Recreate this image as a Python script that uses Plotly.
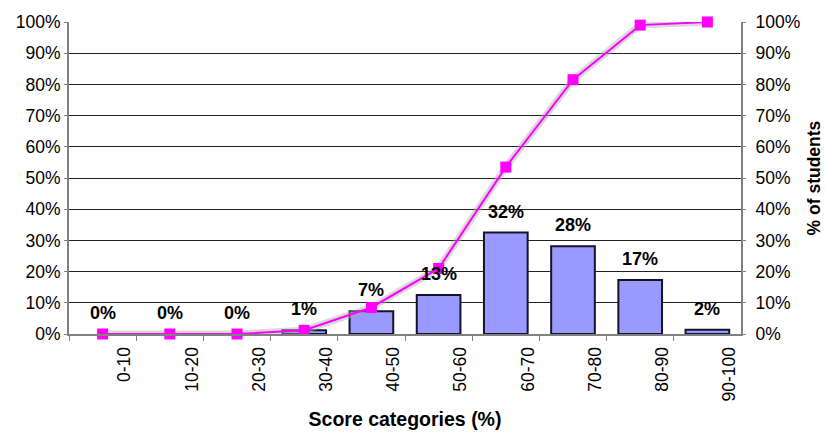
import plotly.graph_objects as go

categories = ["0-10", "10-20", "20-30", "30-40", "40-50", "50-60", "60-70", "70-80", "80-90", "90-100"]
share_pct = [0, 0, 0, 1.2, 7.3, 12.5, 32.5, 28.1, 17.3, 1.4]
share_labels = ["0%", "0%", "0%", "1%", "7%", "13%", "32%", "28%", "17%", "2%"]
cumulative_pct = [0, 0, 0, 1.2, 8.5, 21.0, 53.5, 81.5, 99.0, 100.0]
y_ticks = list(range(0, 101, 10))
y_tick_labels = ["%d%%" % v for v in y_ticks]

FONT = "Liberation Sans, Arial, sans-serif"
xs = list(range(len(categories)))

fig = go.Figure()
fig.add_trace(go.Bar(
    x=xs, y=[v if v > 0 else None for v in share_pct], width=0.65,
    marker=dict(color="#9999FF", line=dict(color="#141428", width=2)),
    showlegend=False,
))
# faint grey halo around the cumulative line
fig.add_trace(go.Scatter(
    x=xs, y=cumulative_pct, mode="lines",
    line=dict(color="rgba(170,170,170,0.45)", width=7),
    showlegend=False, cliponaxis=False, hoverinfo="skip",
))
fig.add_trace(go.Scatter(
    x=xs, y=cumulative_pct, mode="lines+markers",
    line=dict(color="#FF00FF", width=2),
    marker=dict(symbol="square", size=11, color="#FF00FF"),
    showlegend=False, cliponaxis=False,
))
# invisible trace to activate the right axis
fig.add_trace(go.Scatter(x=[xs[0]], y=[0], yaxis="y2", mode="markers",
                         marker=dict(opacity=0), showlegend=False, hoverinfo="skip"))

for x, v, t in zip(xs, share_pct, share_labels):
    fig.add_annotation(x=x, y=v, text="<b>%s</b>" % t, showarrow=False,
                       yanchor="bottom", yshift=9,
                       font=dict(family=FONT, size=18, color="black"))

fig.update_layout(
    width=826, height=435,
    margin=dict(l=69, r=85, t=22, b=101),
    plot_bgcolor="white", paper_bgcolor="white",
    font=dict(family=FONT, size=17.5, color="black"),
    bargap=0.35,
    xaxis=dict(
        range=[-0.5, 9.5], tickmode="array", automargin=False,
        tickvals=[x + 0.33 for x in xs], ticktext=categories,
        tickangle=-90, ticks="", showgrid=False, zeroline=False,
        showline=True, linecolor="#808080", linewidth=2,
        minor=dict(tickmode="array", tickvals=[x + 0.5 for x in xs[:-1]] + [-0.5],
                   ticks="outside", ticklen=5, tickcolor="#808080", tickwidth=1),
        title=dict(text="<b>Score categories (%)</b>", font=dict(size=19.5), standoff=12),
        ticklabelstandoff=4,
    ),
    yaxis=dict(
        range=[0, 100], tickmode="array", tickvals=y_ticks, ticktext=y_tick_labels,
        automargin=False,
        showgrid=True, gridcolor="#222222", gridwidth=1, zeroline=False,
        showline=True, linecolor="#808080", linewidth=2, mirror=True,
        ticks="outside", ticklen=3, tickcolor="#808080",
    ),
    yaxis2=dict(
        range=[0, 100], tickmode="array", tickvals=y_ticks, ticktext=y_tick_labels,
        automargin=False,
        overlaying="y", side="right", showgrid=False, zeroline=False,
        showline=True, linecolor="#808080", linewidth=2,
        ticks="outside", ticklen=3, tickcolor="#808080", ticklabelstandoff=6,
        title=dict(text="<b>% of students</b>", font=dict(size=17.5), standoff=8),
    ),
)

fig.write_html("out.html")
